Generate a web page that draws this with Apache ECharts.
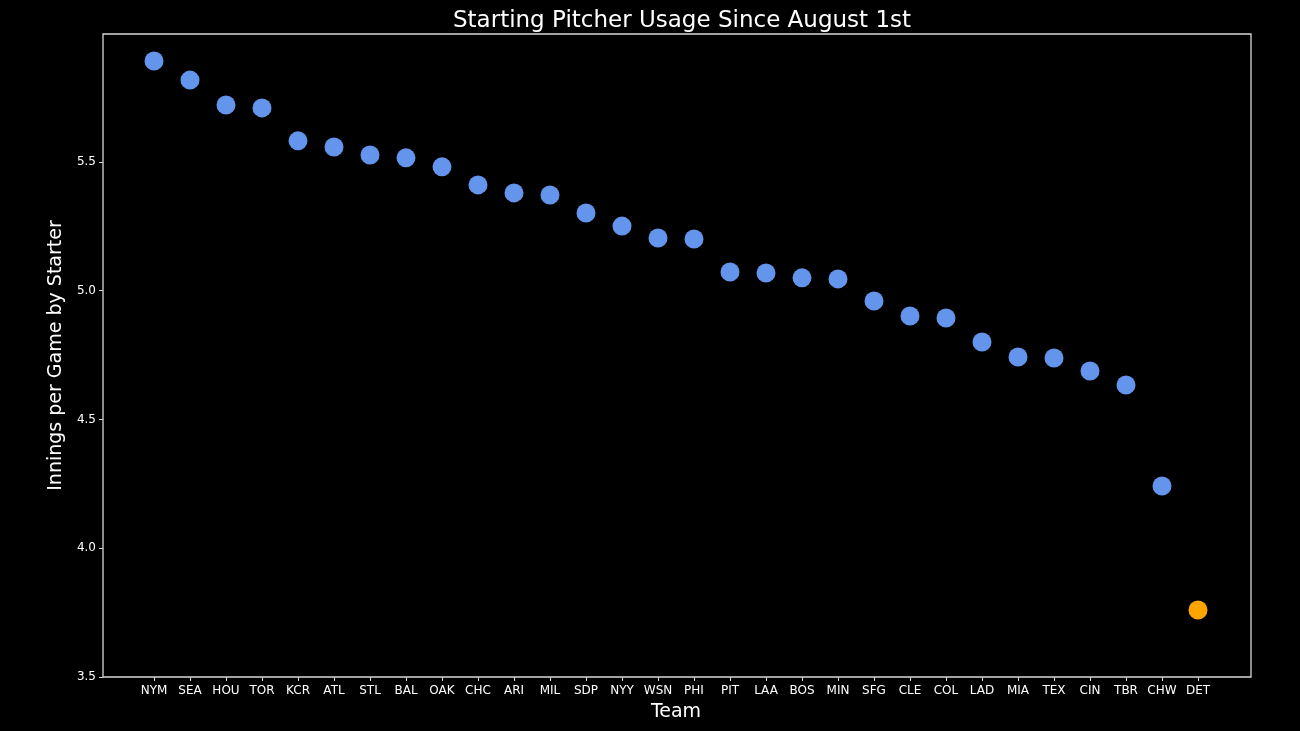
<!DOCTYPE html>
<html>
<head>
<meta charset="utf-8">
<script src="https://cdn.jsdelivr.net/npm/echarts@6/dist/echarts.min.js"></script>
<style>
html,body{margin:0;padding:0;background:#000;}
#chart{width:1300px;height:731px;}
</style>
</head>
<body>
<div id="chart"></div>
<script>
const teams = ['NYM','SEA','HOU','TOR','KCR','ATL','STL','BAL','OAK','CHC','ARI','MIL','SDP','NYY','WSN','PHI','PIT','LAA','BOS','MIN','SFG','CLE','COL','LAD','MIA','TEX','CIN','TBR','CHW','DET'];
const innings = [5.892,5.818,5.721,5.710,5.582,5.558,5.527,5.516,5.481,5.411,5.380,5.372,5.302,5.251,5.205,5.201,5.073,5.069,5.050,5.046,4.960,4.902,4.894,4.801,4.743,4.739,4.688,4.634,4.242,3.760];
const highlightTeam = 'DET';
const yTicks = [3.5, 4.0, 4.5, 5.0, 5.5];

const font = 'DejaVu Sans';
const fg = '#ffffff';
const frameColor = '#d8d8d8';

const chart = echarts.init(document.getElementById('chart'), null, {renderer: 'canvas'});
chart.setOption({
  backgroundColor: '#000',
  animation: false,
  textStyle: {fontFamily: font},
  title: {
    text: 'Starting Pitcher Usage Since August 1st',
    left: 677, top: 5, textAlign: 'center',
    textStyle: {color: fg, fontSize: 23, fontWeight: 'normal', fontFamily: font}
  },
  grid: [
    {left: 103, right: 49, top: 34, bottom: 54, show: true, borderColor: frameColor, borderWidth: 1.3, backgroundColor: 'transparent'},
    {left: 136, right: 84, top: 34, bottom: 54}
  ],
  xAxis: [
    {type: 'value', gridIndex: 0, show: false, min: 0, max: 1},
    {type: 'category', gridIndex: 1, data: teams,
     axisLine: {show: false},
     axisTick: {show: true, alignWithLabel: true, length: 4, lineStyle: {color: frameColor}},
     axisLabel: {color: fg, fontSize: 12, margin: 8, fontFamily: font, interval: 0},
     name: 'Team', nameLocation: 'middle', nameGap: 26,
     nameTextStyle: {color: fg, fontSize: 19, fontFamily: font}
    }
  ],
  yAxis: [
    {type: 'value', gridIndex: 0, min: yTicks[0], max: 5.997, interval: 0.5,
     splitLine: {show: false},
     axisLine: {show: false},
     axisTick: {show: true, length: 4, lineStyle: {color: frameColor}},
     axisLabel: {color: fg, fontSize: 12, margin: 7, fontFamily: font, showMaxLabel: false, formatter: v => v.toFixed(1)},
     name: 'Innings per Game by Starter', nameLocation: 'middle', nameGap: 37,
     nameTextStyle: {color: fg, fontSize: 19, fontFamily: font}
    },
    {type: 'value', gridIndex: 1, min: yTicks[0], max: 5.997, show: false, splitLine: {show: false}}
  ],
  series: [{
    type: 'scatter',
    xAxisIndex: 1, yAxisIndex: 1,
    symbolSize: 19,
    data: teams.map((t, i) => ({
      value: [t, innings[i]],
      itemStyle: {color: t === highlightTeam ? '#FFA500' : '#6495ED', opacity: 1}
    }))
  }]
});
</script>
</body>
</html>
